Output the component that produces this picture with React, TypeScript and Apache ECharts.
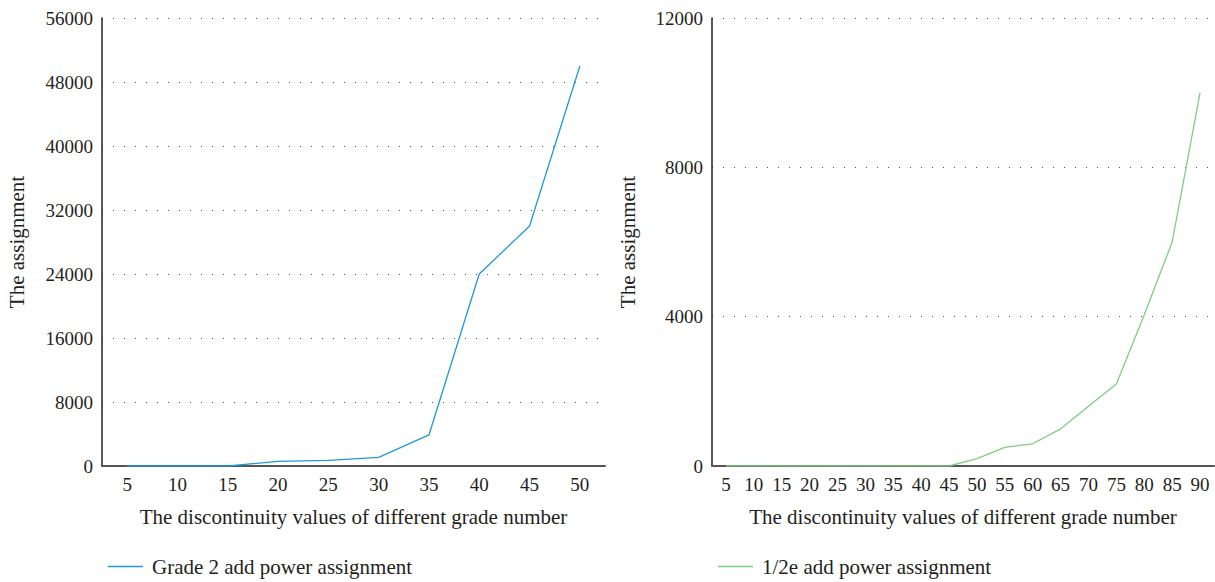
import React, { useEffect, useRef } from "react";
import * as echarts from "echarts";

const leftCategories = ["5", "10", "15", "20", "25", "30", "35", "40", "45", "50"];
const leftValues = [0, 0, 0, 580, 700, 1070, 3880, 24000, 30000, 50000];
const rightCategories = ["5", "10", "15", "20", "25", "30", "35", "40", "45", "50", "55", "60", "65", "70", "75", "80", "85", "90"];
const rightValues = [0, 0, 0, 0, 0, 0, 0, 0, 0, 195, 500, 595, 995, 1600, 2195, 4050, 6000, 10000];
const leftSeriesName = "Grade 2 add power assignment";
const rightSeriesName = "1/2e add power assignment";
const xAxisName = "The discontinuity values of different grade number";
const yAxisName = "The assignment";

const FONT = "Liberation Serif";
const TEXT = "#231f20";

export default function App() {
  const ref = useRef<HTMLDivElement>(null);
  useEffect(() => {
    if (!ref.current) return;
    const chart = echarts.init(ref.current, undefined, { renderer: "svg" });
    const xAxisCommon = {
      type: "category" as const,
      boundaryGap: true,
      nameLocation: "middle" as const,
      name: xAxisName,
      nameGap: 40,
      nameTextStyle: { fontFamily: FONT, fontSize: 21, color: TEXT },
      axisLine: { lineStyle: { color: "#555", width: 2 } },
      axisTick: { show: false },
      axisLabel: { fontFamily: FONT, fontSize: 19, color: TEXT, margin: 9 },
      splitLine: { show: false },
    };
    const yAxisCommon = {
      type: "value" as const,
      min: 0,
      name: yAxisName,
      nameLocation: "middle" as const,
      nameRotate: 90,
      nameTextStyle: { fontFamily: FONT, fontSize: 21, color: TEXT },
      axisLine: { show: true, lineStyle: { color: "#222", width: 1.5 } },
      axisTick: { show: false },
      axisLabel: {
        fontFamily: FONT,
        fontSize: 19,
        color: TEXT,
        margin: 9,
        formatter: (v: number) => String(v),
      },
      splitLine: { show: true, lineStyle: { color: "#555", width: 1, type: [1, 10] } },
    };
    chart.setOption({
      animation: false,
      grid: [
        { left: 102, right: 610, top: 18, bottom: 116 },
        { left: 712, right: 1, top: 18, bottom: 116 },
      ],
      legend: [
        {
          data: [leftSeriesName],
          left: 103,
          top: 551,
          icon: "rect",
          itemWidth: 35,
          itemHeight: 1.5,
          textStyle: { fontFamily: FONT, fontSize: 21, color: TEXT, padding: [0, 0, 0, 4] },
        },
        {
          data: [rightSeriesName],
          left: 713,
          top: 551,
          icon: "rect",
          itemWidth: 35,
          itemHeight: 1.5,
          textStyle: { fontFamily: FONT, fontSize: 21, color: TEXT, padding: [0, 0, 0, 4] },
        },
      ],
      xAxis: [
        { ...xAxisCommon, gridIndex: 0, data: leftCategories },
        { ...xAxisCommon, gridIndex: 1, data: rightCategories },
      ],
      yAxis: [
        { ...yAxisCommon, gridIndex: 0, max: 56000, interval: 8000, nameGap: 75 },
        { ...yAxisCommon, gridIndex: 1, max: 12000, interval: 4000, nameGap: 74 },
      ],
      series: [
        {
          name: leftSeriesName,
          type: "line",
          xAxisIndex: 0,
          yAxisIndex: 0,
          data: leftValues,
          symbol: "none",
          lineStyle: { color: "#1f9ad6", width: 1.3 },
          itemStyle: { color: "#1f9ad6" },
        },
        {
          name: rightSeriesName,
          type: "line",
          xAxisIndex: 1,
          yAxisIndex: 1,
          data: rightValues,
          symbol: "none",
          lineStyle: { color: "#7fcc84", width: 1.3 },
          itemStyle: { color: "#7fcc84" },
        },
      ],
    });
    return () => chart.dispose();
  }, []);
  return <div ref={ref} style={{ width: 1215, height: 582, position: "absolute", left: 0, top: 0 }} />;
}
